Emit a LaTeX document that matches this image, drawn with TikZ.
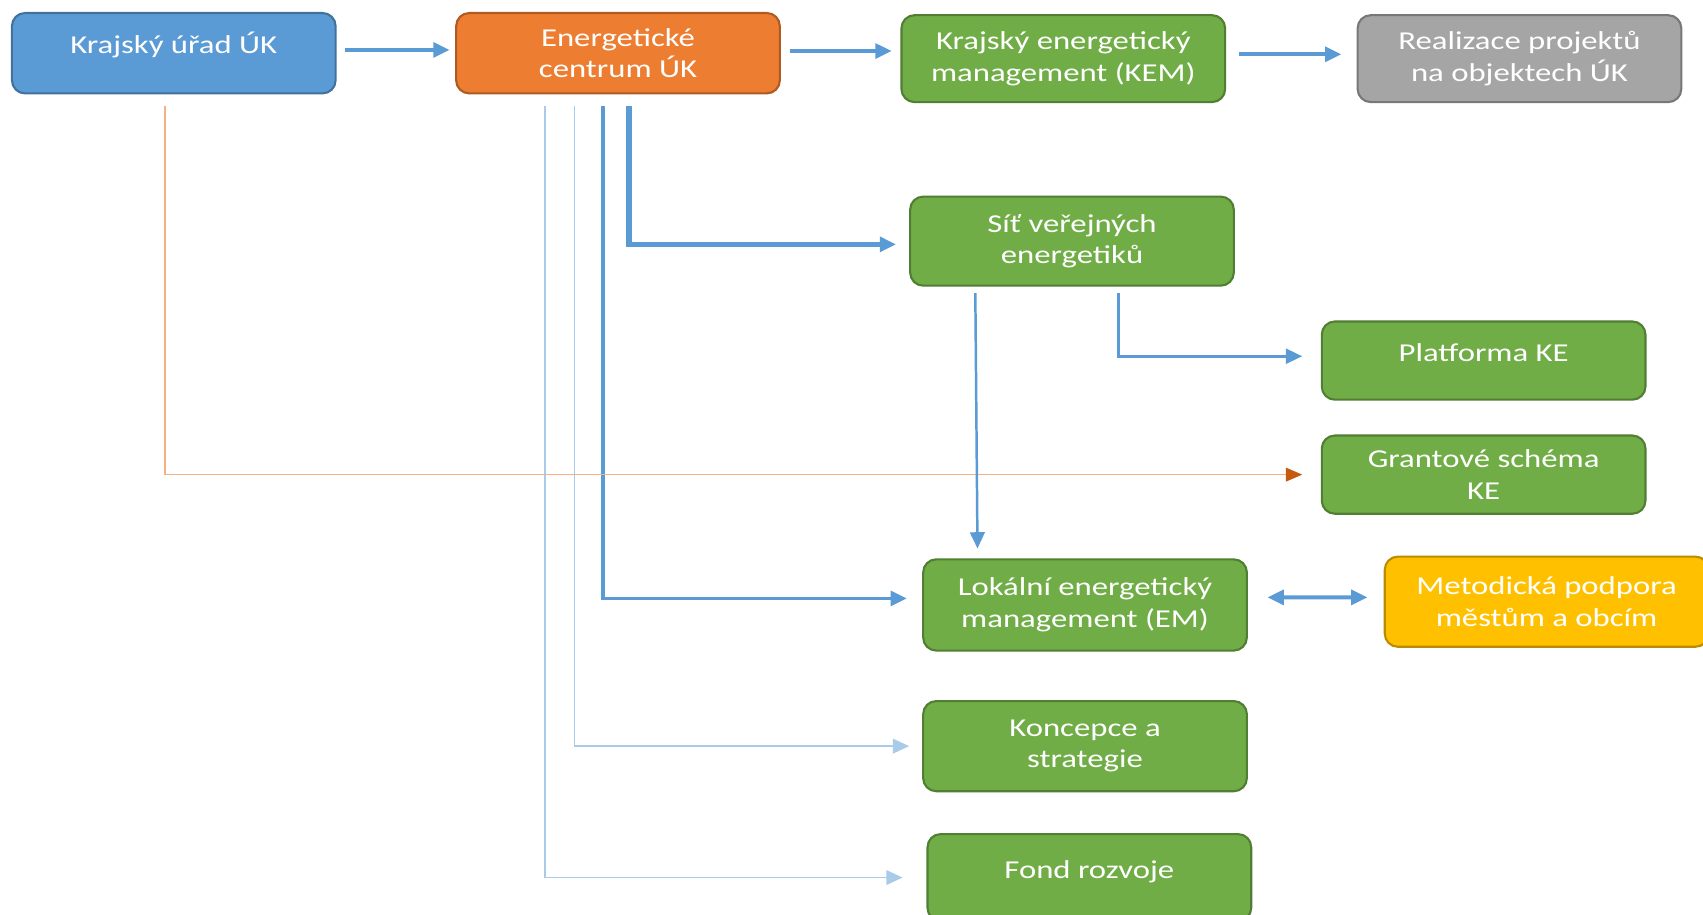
\documentclass[tikz,border=0pt]{standalone}
\usepackage{fontspec}
\setmainfont{Carlito}[FakeStretch=1.27]
\usetikzlibrary{arrows.meta}
\definecolor{ukblue}{HTML}{5B9BD5}
\definecolor{ukblueD}{HTML}{41719C}
\definecolor{uklight}{HTML}{A9CBEA}
\definecolor{ukorange}{HTML}{ED7D31}
\definecolor{ukorangeD}{HTML}{AE5A21}
\definecolor{uklightorange}{HTML}{F4B183}
\definecolor{ukarrow}{HTML}{C55A11}
\definecolor{ukgreen}{HTML}{70AD47}
\definecolor{ukgreenD}{HTML}{507E32}
\definecolor{ukgrey}{HTML}{A5A5A5}
\definecolor{ukgreyD}{HTML}{787878}
\definecolor{ukyellow}{HTML}{FFC000}
\definecolor{ukyellowD}{HTML}{BC8C00}

\begin{document}
\begin{tikzpicture}[box/.style={shape=rectangle,rounded corners=0.24cm,line width=1.1pt,minimum width=5.96cm,minimum height=1.56cm,inner sep=0,align=center,text=white,font=\fontsize{13.5}{16.5}\selectfont},
							oneline/.style={text height=0.34cm,text depth=0.32cm},
							bluebox/.style={box,fill=ukblue,draw=ukblueD}, orangebox/.style={box,fill=ukorange,draw=ukorangeD},
							greenbox/.style={box,fill=ukgreen,draw=ukgreenD}, greybox/.style={box,fill=ukgrey,draw=ukgreyD},
							yellowbox/.style={box,fill=ukyellow,draw=ukyellowD},
							link/.style={color=ukblue,->,line width=2pt}, thicklink/.style={link,line width=2.9pt},
							midlink/.style={link,line width=1.3pt}, thinlink/.style={color=uklight,->,line width=0.9pt},
							>={Triangle[length=0.3cm,width=0.27cm]}]
			\useasboundingbox (0,0) rectangle (31.36,-16.84);
			\clip (0,0) rectangle (31.36,-16.84);
			\node[bluebox,oneline,minimum height=1.48cm] (kuk) at (3.2,-0.98) {Krajský úřad ÚK};
			\node[orangebox,minimum height=1.48cm] (ec) at (11.38,-0.98) {Energetické\\centrum ÚK};
			\node[greenbox,minimum height=1.6cm] (kem) at (19.58,-1.08) {Krajský energetický\\management (KEM)};
			\node[greybox,minimum height=1.6cm] (real) at (27.98,-1.08) {Realizace projektů\\na objektech ÚK};
			\node[greenbox,minimum height=1.64cm] (sit) at (19.74,-4.44) {Síť veřejných\\energetiků};
			\node[greenbox,oneline,minimum height=1.44cm] (plat) at (27.32,-6.64) {Platforma KE};
			\node[greenbox,minimum height=1.44cm] (grant) at (27.32,-8.74) {Grantové schéma\\KE};
			\node[greenbox,minimum height=1.68cm] (lem) at (19.98,-11.14) {Lokální energetický\\management (EM)};
			\node[yellowbox,minimum height=1.66cm] (met) at (28.48,-11.08) {Metodická podpora\\městům a obcím};
			\node[greenbox,minimum height=1.66cm] (konc) at (19.98,-13.74) {Koncepce a\\strategie};
			\node[greenbox,oneline,minimum height=1.6cm] (fond) at (20.06,-16.16) {Fond rozvoje};
			% top row
			\draw[link,shorten <=0.16cm,shorten >=0.1cm] (kuk.east |- 0,-0.92) -- (ec.west |- 0,-0.92);
			\draw[link,shorten <=0.16cm,shorten >=0.16cm] (ec.east |- 0,-0.94) -- (kem.west |- 0,-0.94);
			\draw[link,shorten <=0.24cm,shorten >=0.28cm] (kem.east |- 0,-1.0) -- (real.west |- 0,-1.0);
			% from Energeticke centrum
			\draw[thicklink,shorten >=0.24cm] ([xshift=0.2cm,yshift=-0.22cm]ec.south) |- ([yshift=-0.06cm]sit.west);
			\draw[link,shorten >=0.28cm] ([xshift=-0.28cm,yshift=-0.22cm]ec.south) |- ([yshift=0.12cm]lem.west);
			\draw[thinlink,shorten >=0.24cm] ([xshift=-0.8cm,yshift=-0.22cm]ec.south) |- (konc.west);
			\draw[thinlink,shorten >=0.44cm] ([xshift=-1.34cm,yshift=-0.22cm]ec.south) |- (fond.west);
			% from Krajsky urad
			\draw[color=uklightorange,line width=0.9pt,-{Triangle[length=0.3cm,width=0.25cm,color=ukarrow]},shorten >=0.34cm] ([xshift=-0.16cm,yshift=-0.22cm]kuk.south) |- (grant.west);
			% from Sit
			\draw[midlink] ([xshift=-1.78cm,yshift=-0.12cm]sit.south) -- ([xshift=-1.98cm,yshift=0.18cm]lem.north);
			\draw[link,line width=1.6pt,shorten >=0.34cm] ([xshift=0.86cm,yshift=-0.12cm]sit.south) |- ([yshift=0.08cm]plat.west);
			\draw[link,<->,shorten <=0.36cm,shorten >=0.3cm] ([yshift=0.14cm]lem.east) -- ([yshift=0.08cm]met.west);
		\end{tikzpicture}
\end{document}
